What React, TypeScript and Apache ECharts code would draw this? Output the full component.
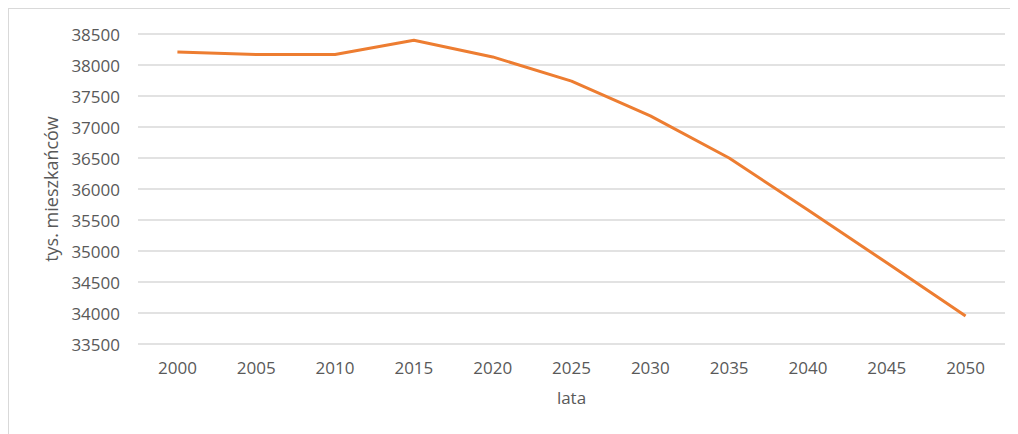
import React, { useEffect, useRef } from "react";
import * as echarts from "echarts";

const years = ["2000", "2005", "2010", "2015", "2020", "2025", "2030", "2035", "2040", "2045", "2050"];
const population = [38210, 38170, 38170, 38400, 38130, 37740, 37180, 36500, 35660, 34810, 33950];

export default function App() {
  const ref = useRef<HTMLDivElement>(null);
  useEffect(() => {
    if (!ref.current) return;
    const chart = echarts.init(ref.current, undefined, { renderer: "svg" });
    const font = "Open Sans, Calibri, sans-serif";
    chart.setOption({
      animation: false,
      backgroundColor: "#ffffff",
      grid: { left: 129, right: 14, top: 25, bottom: 95 },
      xAxis: {
        type: "category",
        data: years,
        boundaryGap: true,
        name: "lata",
        nameLocation: "middle",
        nameGap: 45,
        nameTextStyle: { color: "#595959", fontSize: 17, fontFamily: font },
        axisLine: { show: false },
        axisTick: { show: false },
        axisLabel: { color: "#595959", fontSize: 17, margin: 15, fontFamily: font },
      },
      yAxis: {
        type: "value",
        min: 33500,
        max: 38500,
        interval: 500,
        name: "tys. mieszkańców",
        nameLocation: "middle",
        nameGap: 67,
        nameTextStyle: { color: "#595959", fontSize: 18, fontFamily: font },
        axisLine: { show: false },
        axisTick: { show: false },
        axisLabel: {
          color: "#595959",
          fontSize: 17,
          margin: 18,
          fontFamily: font,
          formatter: (v: number) => String(v),
        },
        splitLine: { lineStyle: { color: "#d9d9d9", width: 1.5 } },
      },
      series: [
        {
          type: "line",
          data: population,
          symbol: "none",
          lineStyle: { color: "#ED7D31", width: 3 },
        },
      ],
    });
    return () => chart.dispose();
  }, []);
  return (
    <div style={{ width: 1010, height: 430, border: "1px solid #d9d9d9", boxSizing: "content-box" }}>
      <div ref={ref} style={{ width: 1010, height: 430 }} />
    </div>
  );
}
